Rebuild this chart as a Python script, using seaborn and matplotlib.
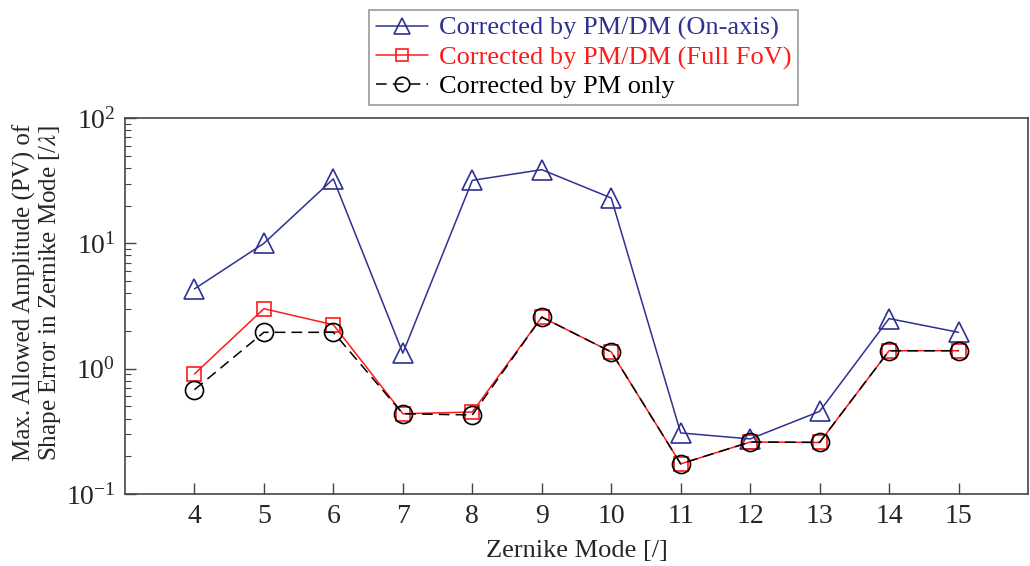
import numpy as np
import pandas as pd
import matplotlib
matplotlib.use("Agg")
import matplotlib.pyplot as plt
import seaborn as sns
from matplotlib.ticker import LogLocator, LogFormatterSciNotation, NullFormatter

modes = [4, 5, 6, 7, 8, 9, 10, 11, 12, 13, 14, 15]
on_axis = [4.33, 10.0, 32.7, 1.33, 31.8, 38.7, 23.0, 0.307, 0.275, 0.456, 2.51, 1.95]
full_fov = [0.907, 3.01, 2.24, 0.437, 0.451, 2.58, 1.36, 0.174, 0.26, 0.258, 1.39, 1.39]
pm_only = [0.68, 1.95, 1.95, 0.437, 0.427, 2.58, 1.36, 0.174, 0.26, 0.258, 1.39, 1.39]
labels = ["Corrected by PM/DM (On-axis)", "Corrected by PM/DM (Full FoV)", "Corrected by PM only"]

sns.set_theme(style="white")
plt.rcParams["font.family"] = ["Liberation Serif", "DejaVu Serif"]
plt.rcParams["mathtext.fontset"] = "stix"

fig = plt.figure(figsize=(10.3, 5.66), dpi=100)
ax = fig.add_axes([125/1030, 1-494/566, (1028-125)/1030, (494-118)/566])

blue = "#2E3192"
red = "#FF1A1A"

df = pd.DataFrame({"mode": modes, "on": on_axis, "full": full_fov, "pm": pm_only})

sns.lineplot(data=df, x="mode", y="on", ax=ax, color=blue, lw=1.1, marker="^", markersize=15,
             markerfacecolor="none", markeredgecolor=blue, markeredgewidth=1.2, label=labels[0])
sns.lineplot(data=df, x="mode", y="full", ax=ax, color=red, lw=1.1, marker="s", markersize=10,
             markerfacecolor="none", markeredgecolor=red, markeredgewidth=1.2, label=labels[1])
sns.lineplot(data=df, x="mode", y="pm", ax=ax, color="black", lw=1.1, marker="o", markersize=13,
             markerfacecolor="none", markeredgecolor="black", markeredgewidth=1.2,
             dashes=(7, 4), label=labels[2])

ax.set_yscale("log")
ax.set_ylim(0.1, 100)
ax.set_xlim(3, 16)
ax.set_xticks(modes)
ax.yaxis.set_major_locator(LogLocator(base=10, numticks=10))
ax.yaxis.set_major_formatter(LogFormatterSciNotation())
ax.yaxis.set_minor_locator(LogLocator(base=10, subs=np.arange(2, 10), numticks=20))
ax.yaxis.set_minor_formatter(NullFormatter())

ax.tick_params(axis="both", which="major", direction="in", length=8, width=1, color="#444444",
               labelsize=20, left=True, bottom=True, right=False, top=False, pad=7)
ax.tick_params(axis="y", which="minor", direction="in", length=4, width=0.8, color="#444444", left=True)
for s in ax.spines.values():
    s.set_color("#444444")
    s.set_linewidth(1.2)

ax.set_xlabel("Zernike Mode [/]", fontsize=19, labelpad=8)
ax.set_ylabel("Max. Allowed Amplitude (PV) of\nShape Error in Zernike Mode [/$\\lambda$]",
              fontsize=18, linespacing=1.05)
ax.yaxis.set_label_coords(-0.069, 0.535)

leg = ax.legend(loc="upper left", bbox_to_anchor=(369/1030, 1-10/566), bbox_transform=fig.transFigure,
                fontsize=19, frameon=True, fancybox=False, edgecolor="#999999", framealpha=1,
                handlelength=2.0, labelspacing=0.2, borderpad=0.25, handletextpad=0.4, borderaxespad=0,
                markerscale=0.8)
leg.get_frame().set_linewidth(1.2)
for t, c in zip(leg.get_texts(), [blue, red, "black"]):
    t.set_color(c)

fig.savefig("out.png", dpi=100)
